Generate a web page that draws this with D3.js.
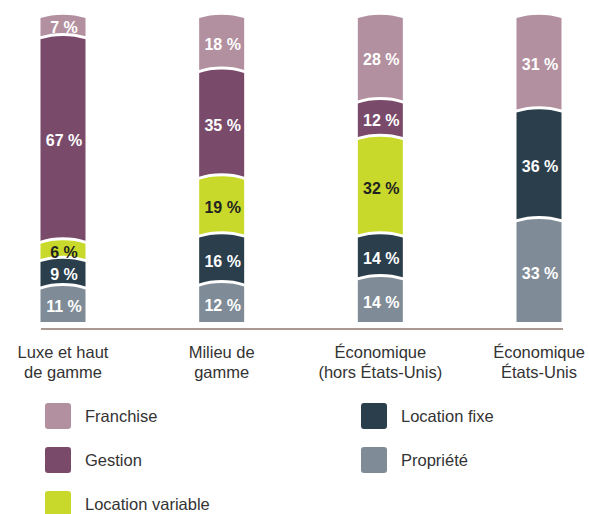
<!DOCTYPE html>
<meta charset="utf-8">
<style>
body { margin: 0; font-family: "Liberation Sans", Arial, Helvetica, sans-serif; background: #fff; }
.barlabel { font-size: 16px; font-weight: bold; text-anchor: middle; }
.catlabel { font-size: 16.5px; fill: #333; text-anchor: middle; }
.legend text { font-size: 16.5px; fill: #333; }
</style>
<body>
<script src="https://cdnjs.cloudflare.com/ajax/libs/d3/7.8.5/d3.min.js"></script>
<script>

// data
var categories = ["Luxe et haut de gamme", "Milieu de gamme", "Économique (hors États-Unis)", "Économique États-Unis"];
var catLines = [["Luxe et haut", "de gamme"], ["Milieu de", "gamme"], ["Économique", "(hors États-Unis)"], ["Économique", "États-Unis"]];
// stack order bottom -> top
var keys = ["Propriété", "Location fixe", "Location variable", "Gestion", "Franchise"];
var propriete        = [11, 12, 14, 33];
var locationFixe     = [9, 16, 14, 36];
var locationVariable = [6, 19, 32, 0];
var gestion          = [67, 35, 12, 0];
var franchise        = [7, 18, 28, 31];
var series = [propriete, locationFixe, locationVariable, gestion, franchise];
var legendOrder = ["Franchise", "Gestion", "Location variable", "Location fixe", "Propriété"];

var colors = {
  "Franchise": "#b3909f",
  "Gestion": "#7a4a6b",
  "Location variable": "#c9d92b",
  "Location fixe": "#2a3e4c",
  "Propriété": "#7f8c97"
};
var textColors = { "Location variable": "#222" };

var width = 589, height = 514;
var barW = 45, gap = 3, bulge = 3.5;

var svg = d3.select("body").append("svg")
    .attr("width", width)
    .attr("height", height);

var x = d3.scalePoint().domain(categories).range([63, 539]);
var y = d3.scaleLinear().domain([0, 100]).range([322, 17]);

// build segments
var segs = [];
categories.forEach(function(c, i) {
  var cum = 0;
  keys.forEach(function(k, j) {
    var v = series[j][i];
    if (v > 0) {
      segs.push({cat: c, key: k, v: v, y0: cum, y1: cum + v, first: cum === 0});
    }
    cum += v;
  });
});

// segment shape: curved top, curved bottom (flat for the lowest one)
function segPath(d) {
  var cx = x(d.cat), x0 = cx - barW / 2, x1 = cx + barW / 2;
  var yt = y(d.y1), yb = d.first ? y(d.y0) : y(d.y0) - gap;
  var p = "M" + x0 + "," + (yt + 1);
  p += " C" + (x0 + barW * 0.3) + "," + (yt - bulge) + " " + (x1 - barW * 0.3) + "," + (yt - bulge) + " " + x1 + "," + (yt + 1);
  if (d.first) {
    p += " L" + x1 + "," + yb + " L" + x0 + "," + yb + " Z";
  } else {
    p += " L" + x1 + "," + (yb + 1);
    p += " C" + (x1 - barW * 0.3) + "," + (yb - bulge) + " " + (x0 + barW * 0.3) + "," + (yb - bulge) + " " + x0 + "," + (yb + 1) + " Z";
  }
  return p;
}

svg.append("g").selectAll("path")
  .data(segs)
  .enter().append("path")
    .attr("d", segPath)
    .attr("fill", function(d) { return colors[d.key]; });

svg.append("g").selectAll("text")
  .data(segs)
  .enter().append("text")
    .attr("class", "barlabel")
    .attr("x", function(d) { return x(d.cat) + 1; })
    .attr("y", function(d) { return (y(d.y1) + y(d.y0) - (d.first ? 0 : gap)) / 2; })
    .attr("dy", "0.45em")
    .attr("fill", function(d) { return textColors[d.key] || "#fff"; })
    .text(function(d) { return d.v + " %"; });

// baseline
svg.append("line")
    .attr("x1", 41).attr("x2", 563)
    .attr("y1", 329).attr("y2", 329)
    .attr("stroke", "#ab9994")
    .attr("stroke-width", 2);

// category labels
var cl = svg.append("g").selectAll("text")
  .data(categories)
  .enter().append("text")
    .attr("class", "catlabel")
    .attr("x", function(d) { return x(d); })
    .attr("y", 358);
cl.selectAll("tspan")
  .data(function(d, i) { return catLines[i]; })
  .enter().append("tspan")
    .attr("x", function() { return x(d3.select(this.parentNode).datum()); })
    .attr("dy", function(d, i) { return i ? 20 : 0; })
    .text(function(d) { return d; });

// legend
var legend = svg.append("g")
    .attr("class", "legend")
  .selectAll("g")
  .data(legendOrder)
  .enter().append("g")
    .attr("transform", function(d, i) {
      var col = i < 3 ? 0 : 1, row = i < 3 ? i : i - 3;
      return "translate(" + (45 + col * 316) + "," + (403 + row * 44) + ")";
    });

legend.append("rect")
    .attr("width", 26)
    .attr("height", 26)
    .attr("rx", 3)
    .attr("fill", function(d) { return colors[d]; });

legend.append("text")
    .attr("x", 40)
    .attr("y", 13)
    .attr("dy", "0.35em")
    .text(function(d) { return d; });

</script>
</body>
